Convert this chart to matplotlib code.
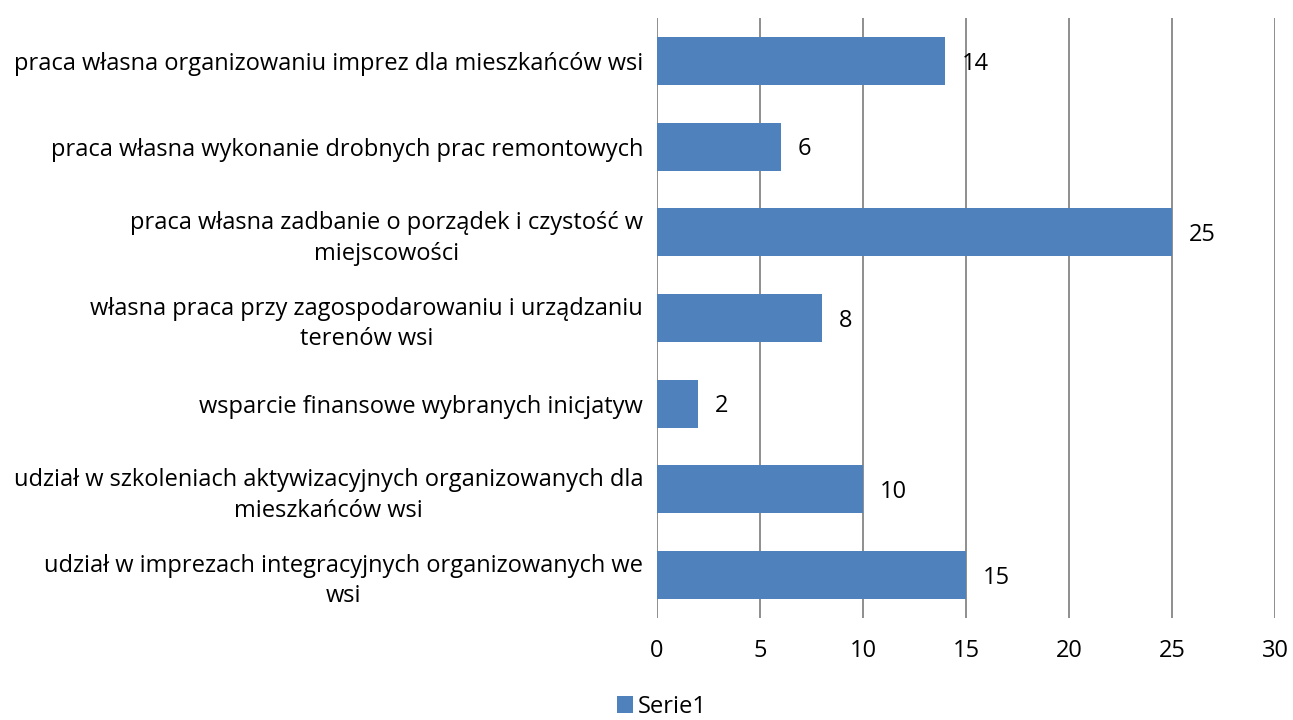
import matplotlib
matplotlib.use("Agg")
import matplotlib.pyplot as plt

categories = [
    "praca własna organizowaniu imprez dla mieszkańców wsi",
    "praca własna wykonanie drobnych prac remontowych",
    "praca własna zadbanie o porządek i czystość w\nmiejscowości",
    "własna praca przy zagospodarowaniu i urządzaniu\nterenów wsi",
    "wsparcie finansowe wybranych inicjatyw",
    "udział w szkoleniach aktywizacyjnych organizowanych dla\nmieszkańców wsi",
    "udział w imprezach integracyjnych organizowanych we\nwsi",
]
values = [14, 6, 25, 8, 2, 10, 15]
series_name = "Serie1"
xticks = [0, 5, 10, 15, 20, 25, 30]

plt.rcParams['font.family'] = ['Open Sans', 'DejaVu Sans']
FS = 17
bar_color = "#4F81BD"
grid_color = "#868686"

fig = plt.figure(figsize=(12.93, 7.2), dpi=100)
ax = fig.add_axes([657/1293, 1 - 618/720, (1275-657)/1293, 600/720])

n = len(categories)
ypos = list(range(n))
ax.barh(ypos, values, height=0.56, color=bar_color, zorder=3, label=series_name)
ax.set_ylim(n - 0.5, -0.5)
ax.set_xlim(0, 30)
ax.set_xticks(xticks)
ax.set_xticklabels([str(t) for t in xticks], fontsize=FS)
ax.tick_params(axis='x', length=0, pad=15)
ax.set_yticks(ypos)
ax.set_yticklabels(categories, fontsize=FS, multialignment='center', linespacing=1.35)
ax.tick_params(axis='y', length=0, pad=10)
ax.grid(axis='x', color=grid_color, linewidth=1.3, zorder=0)
for s in ax.spines.values():
    s.set_visible(False)

for y, v in zip(ypos, values):
    ax.annotate(str(v), (v, y), xytext=(12, -2), textcoords='offset points',
                va='center', ha='left', fontsize=FS)

leg = fig.legend(loc='center', bbox_to_anchor=(662/1293, 1 - 707/720), frameon=False,
                 fontsize=FS, handlelength=0.7, handleheight=0.7, handletextpad=0.2)

fig.savefig("out.png", dpi=100)
